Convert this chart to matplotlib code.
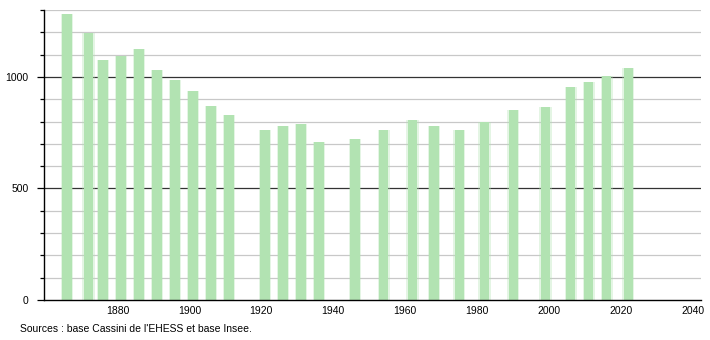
import numpy as np
import matplotlib.pyplot as plt

# census years and population
years = [1866, 1872, 1876, 1881, 1886, 1891, 1896, 1901, 1906, 1911,
         1921, 1926, 1931, 1936, 1946, 1954, 1962, 1968, 1975, 1982,
         1990, 1999, 2006, 2011, 2016, 2022]
population = [1280, 1197, 1078, 1096, 1123, 1033, 988, 935, 871, 831,
              763, 778, 789, 709, 723, 763, 808, 781, 763, 798,
              853, 867, 955, 976, 1006, 1040]
x_ticks = [1880, 1900, 1920, 1940, 1960, 1980, 2000, 2020, 2040]
y_ticks = [0, 500, 1000]
source_text = "Sources : base Cassini de l'EHESS et base Insee."

plt.rcParams["font.family"] = ["Liberation Sans", "DejaVu Sans"]

fig = plt.figure(figsize=(7.1, 3.4), dpi=100)
ax = fig.add_axes([44 / 710, 40 / 340, 657 / 710, 290 / 340])

bar_color = "#b2e3b2"

# grid: light every 100, dark every 500
for v in range(100, 1301, 100):
    if v % 500 == 0:
        ax.axhline(v, color="#333333", lw=0.9, zorder=0)
    else:
        ax.axhline(v, color="#c8c8c8", lw=0.9, zorder=0)

# soft edge halo + solid bar
ax.bar(years, population, width=3.4, color=bar_color, alpha=0.35,
       lw=0, zorder=1)
ax.bar(years, population, width=2.6, color=bar_color, lw=0, zorder=2)

ax.set_xlim(1859.6, 2042.2)
ax.set_ylim(0, 1300)

ax.set_xticks(x_ticks)
ax.set_xticklabels([str(t) for t in x_ticks])
ax.tick_params(axis="x", length=0, pad=4, labelsize=7.5)

ax.set_yticks(y_ticks)
ax.set_yticklabels([str(t) for t in y_ticks])
ax.set_yticks(range(100, 1301, 100), minor=True)
ax.tick_params(axis="y", which="major", length=5, width=0.9, pad=6,
               labelsize=7.5)
ax.tick_params(axis="y", which="minor", length=3, width=0.9)

for side in ["top", "right"]:
    ax.spines[side].set_visible(False)
ax.spines["left"].set_linewidth(1.0)
ax.spines["bottom"].set_linewidth(1.0)
ax.spines["left"].set_zorder(3)
ax.spines["bottom"].set_zorder(3)

fig.text(20 / 710, 1 - 329 / 340, source_text, fontsize=7.5,
         va="center", ha="left")

fig.savefig("out.png", dpi=100)
